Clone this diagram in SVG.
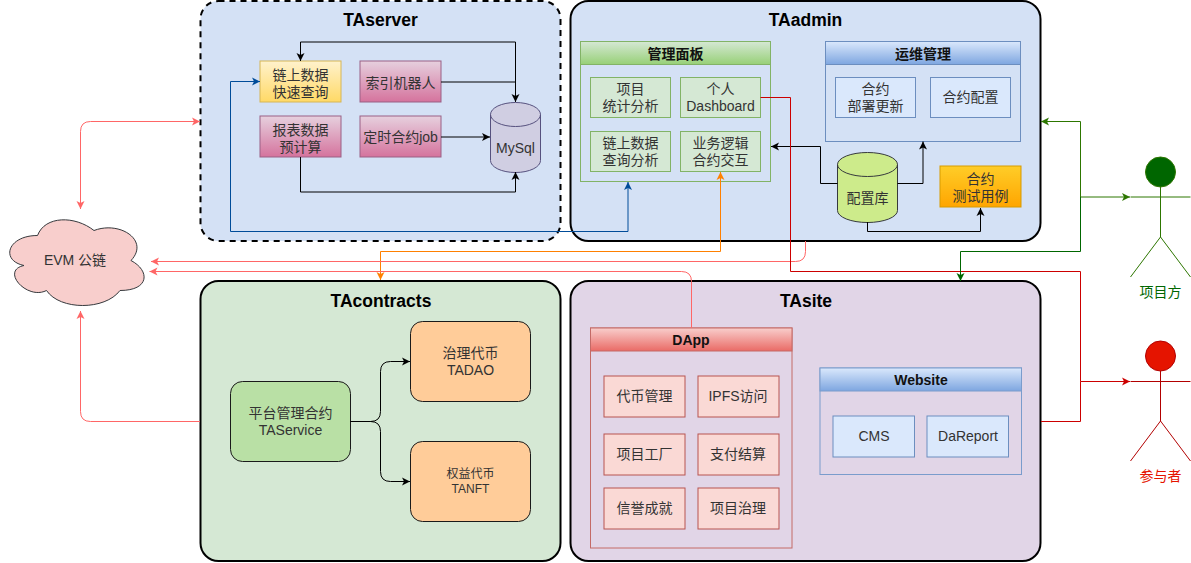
<svg xmlns="http://www.w3.org/2000/svg" width="1191" height="563" viewBox="0 0 1191 563">
<style>
text{font-family:"Liberation Sans","Noto Sans CJK SC",sans-serif;font-size:14px;fill:#333;text-anchor:middle}
.t{font-size:17.5px;font-weight:bold;fill:#000}
.h{font-weight:bold;fill:#111}
.p{stroke:#000;stroke-width:2}
.d{stroke-dasharray:6 5}
.n{stroke-width:1}
.pk{fill:url(#gPink);stroke:#996185}
.gn{fill:#d5e8d4;stroke:#82b366}
.bl{fill:#dae8fc;stroke:#6c8ebf}
.rd{fill:#fad9d5;stroke:#b85450}
.or{fill:#ffcc99;stroke:#1a1a1a}
.c{fill:none;stroke-width:1}
.k{stroke:#000}
.b{stroke:#004c99}
.o{stroke:#ff8000}
.pn{stroke:#ff6666}
.r{stroke:#cc0000}
.g{stroke:#2d7600}
.dg{stroke:#006600}
</style>
<defs>
<linearGradient id="gY" x1="0" y1="0" x2="0" y2="1"><stop offset="0" stop-color="#fff2cc"/><stop offset="1" stop-color="#ffd966"/></linearGradient>
<linearGradient id="gPink" x1="0" y1="0" x2="0" y2="1"><stop offset="0" stop-color="#e6d0de"/><stop offset="1" stop-color="#d5739d"/></linearGradient>
<linearGradient id="gG" x1="0" y1="0" x2="0" y2="1"><stop offset="0" stop-color="#d5e8d4"/><stop offset="1" stop-color="#97d077"/></linearGradient>
<linearGradient id="gB" x1="0" y1="0" x2="0" y2="1"><stop offset="0" stop-color="#dae8fc"/><stop offset="1" stop-color="#7ea6e0"/></linearGradient>
<linearGradient id="gR" x1="0" y1="0" x2="0" y2="1"><stop offset="0" stop-color="#f8cecc"/><stop offset="1" stop-color="#ea6b66"/></linearGradient>
<linearGradient id="gO" x1="0" y1="0" x2="0" y2="1"><stop offset="0" stop-color="#ffcd28"/><stop offset="1" stop-color="#ffa500"/></linearGradient>
<marker id="mK" markerUnits="userSpaceOnUse" markerWidth="10" markerHeight="10" refX="8" refY="4.5" orient="auto"><path d="M0 0.5L8 4.5L0 8.5L2 4.5z" fill="#000"/></marker>
<marker id="mB" markerUnits="userSpaceOnUse" markerWidth="10" markerHeight="10" refX="8" refY="4.5" orient="auto"><path d="M0 0.5L8 4.5L0 8.5L2 4.5z" fill="#004c99"/></marker>
<marker id="mO" markerUnits="userSpaceOnUse" markerWidth="10" markerHeight="10" refX="8" refY="4.5" orient="auto"><path d="M0 0.5L8 4.5L0 8.5L2 4.5z" fill="#ff8000"/></marker>
<marker id="mP" markerUnits="userSpaceOnUse" markerWidth="10" markerHeight="10" refX="8" refY="4.5" orient="auto-start-reverse"><path d="M0 0.5L8 4.5L0 8.5L2 4.5z" fill="#ff6666"/></marker>
<marker id="mR" markerUnits="userSpaceOnUse" markerWidth="10" markerHeight="10" refX="8" refY="4.5" orient="auto"><path d="M0 0.5L8 4.5L0 8.5L2 4.5z" fill="#cc0000"/></marker>
<marker id="mG" markerUnits="userSpaceOnUse" markerWidth="10" markerHeight="10" refX="8" refY="4.5" orient="auto"><path d="M0 0.5L8 4.5L0 8.5L2 4.5z" fill="#2d7600"/></marker>
<marker id="mD" markerUnits="userSpaceOnUse" markerWidth="10" markerHeight="10" refX="8" refY="4.5" orient="auto"><path d="M0 0.5L8 4.5L0 8.5L2 4.5z" fill="#006600"/></marker>
</defs>

<g id="TAserver"><rect class="p d" x="200.500" y="1" width="360" height="240" rx="18" fill="#d4e1f5"/><text class="t" x="380.500" y="26">TAserver</text></g>
<g id="TAadmin"><rect class="p" x="570.500" y="1" width="470" height="240" rx="18" fill="#d4e1f5"/><text class="t" x="805.500" y="26">TAadmin</text></g>
<g id="TAcontracts"><rect class="p" x="200.500" y="281" width="360" height="280" rx="18" fill="#d5e8d4"/><text class="t" x="381" y="307">TAcontracts</text></g>
<g id="TAsite"><rect class="p" x="570.500" y="281" width="470" height="280" rx="18" fill="#e1d5e7"/><text class="t" x="806" y="307">TAsite</text></g>

<g id="query"><rect x="260" y="61" width="81" height="41" fill="url(#gY)" stroke="#d6b656"/><text x="300.500" y="80">链上数据</text><text x="300.500" y="97">快速查询</text></g>
<g id="indexer"><rect class="pk" x="360" y="61" width="81" height="41"/><text x="400.500" y="88">索引机器人</text></g>
<g id="report"><rect class="pk" x="260" y="116" width="81" height="41"/><text x="300.500" y="135">报表数据</text><text x="300.500" y="152">预计算</text></g>
<g id="job"><rect class="pk" x="360" y="116" width="81" height="41"/><text x="400.500" y="142">定时合约job</text></g>
<g id="mysql"><path d="M490.500 114.500a25 12 0 0 1 50 0v46a25 12 0 0 1-50 0z" fill="#d0cee2" stroke="#56517e"/><path d="M490.500 114.500a25 12 0 0 0 50 0" fill="none" stroke="#56517e"/><text x="515.500" y="153">MySql</text></g>

<g id="panel"><rect x="580.500" y="41.500" width="190" height="140" fill="none" stroke="#82b366"/><rect x="580.500" y="41.500" width="190" height="23" fill="url(#gG)" stroke="#82b366"/><text class="h" x="675.500" y="59">管理面板</text></g>
<g id="stat"><rect class="gn" x="590.500" y="77.500" width="80" height="40"/><text x="630.500" y="94">项目</text><text x="630.500" y="111">统计分析</text></g>
<g id="dashboard"><rect class="gn" x="680.500" y="77.500" width="80" height="40"/><text x="720.500" y="94">个人</text><text x="720.500" y="111">Dashboard</text></g>
<g id="chain"><rect class="gn" x="590.500" y="131.500" width="80" height="40"/><text x="630.500" y="148">链上数据</text><text x="630.500" y="165">查询分析</text></g>
<g id="logic"><rect class="gn" x="680.500" y="131.500" width="80" height="40"/><text x="720.500" y="148">业务逻辑</text><text x="720.500" y="165">合约交互</text></g>

<g id="ops"><rect x="825.500" y="41.500" width="195" height="100" fill="none" stroke="#6c8ebf"/><rect x="825.500" y="41.500" width="195" height="23" fill="url(#gB)" stroke="#6c8ebf"/><text class="h" x="923" y="59">运维管理</text></g>
<g id="deploy"><rect class="bl" x="835.500" y="77.500" width="80" height="40"/><text x="875.500" y="94">合约</text><text x="875.500" y="111">部署更新</text></g>
<g id="config"><rect class="bl" x="930.500" y="77.500" width="80" height="40"/><text x="970.500" y="102">合约配置</text></g>
<g id="configdb"><path d="M837.500 164.500a30 12 0 0 1 60 0v46a30 12 0 0 1-60 0z" fill="#cdeb8b" stroke="#36393d"/><path d="M837.500 164.500a30 12 0 0 0 60 0" fill="none" stroke="#36393d"/><text x="867.500" y="203">配置库</text></g>
<g id="test"><rect x="940" y="166" width="81" height="41" fill="url(#gO)" stroke="#d79b00"/><text x="980.500" y="184">合约</text><text x="980.500" y="201">测试用例</text></g>

<g id="evm"><path d="M37.500 235.500C7.500 235.500 0 260.500 24 265.500C0 270.500 27 300.500 46.500 290.500C60 310.500 105 310.500 120 290.500C150 290.500 150 270.500 131 260.500C150 240.500 120 220.500 94 230.500C75 215.500 45 215.500 37.500 235.500Z" fill="#f8cecc" stroke="#36393d"/><text x="75" y="265">EVM 公链</text></g>

<g id="service"><rect x="230.500" y="381.500" width="120" height="80" rx="12" fill="#b9e0a5" stroke="#1a1a1a"/><text x="290.500" y="418">平台管理合约</text><text x="290.500" y="435">TAService</text></g>
<g id="tadao"><rect class="or" x="410.500" y="321.500" width="120" height="80" rx="12"/><text x="470.500" y="358">治理代币</text><text x="470.500" y="375">TADAO</text></g>
<g id="tanft"><rect class="or" x="410.500" y="441.500" width="120" height="80" rx="12"/><text x="470.500" y="478" style="font-size:12px">权益代币</text><text x="470.500" y="493" style="font-size:12px">TANFT</text></g>

<g id="dapp"><rect x="590.500" y="328" width="201.500" height="220" fill="none" stroke="#c46a66"/><rect x="590.500" y="328" width="201.500" height="23" fill="url(#gR)" stroke="#c46a66"/><text class="h" x="691" y="345">DApp</text></g>
<g id="token"><rect class="rd" x="604" y="376" width="81" height="41"/><text x="644.500" y="401">代币管理</text></g>
<g id="ipfs"><rect class="rd" x="698" y="376" width="81" height="41"/><text x="738" y="401">IPFS访问</text></g>
<g id="factory"><rect class="rd" x="604" y="434" width="81" height="41"/><text x="644.500" y="459">项目工厂</text></g>
<g id="pay"><rect class="rd" x="698" y="434" width="81" height="41"/><text x="738" y="459">支付结算</text></g>
<g id="credit"><rect class="rd" x="604" y="488" width="81" height="41"/><text x="644.500" y="513">信誉成就</text></g>
<g id="gov"><rect class="rd" x="698" y="488" width="81" height="41"/><text x="738" y="513">项目治理</text></g>

<g id="website"><rect x="820" y="368" width="201.500" height="106.500" fill="none" stroke="#7a9ccc"/><rect x="820" y="368" width="201.500" height="23" fill="url(#gB)" stroke="#7a9ccc"/><text class="h" x="921" y="385">Website</text></g>
<g id="cms"><rect class="bl" x="833" y="416" width="81.500" height="41"/><text x="874" y="441">CMS</text></g>
<g id="dareport"><rect class="bl" x="927" y="416" width="81.500" height="41"/><text x="968" y="441">DaReport</text></g>

<g id="actor-owner" fill="none" stroke="#2d7600"><circle cx="1160.500" cy="172" r="15" fill="#006600"/><path d="M1160.500 187V237M1130.500 197H1190.500M1160.500 237L1130.500 277M1160.500 237L1190.500 277"/><text x="1160.500" y="297" stroke="none" style="fill:#006600">项目方</text></g>
<g id="actor-user" fill="none" stroke="#b20000"><circle cx="1160.500" cy="356" r="15" fill="#e51400"/><path d="M1160.500 371V421M1130.500 381.500H1190.500M1160.500 421L1130.500 461M1160.500 421L1190.500 461"/><text x="1160.500" y="481" stroke="none" style="fill:#e51400">参与者</text></g>

<g id="connectors">
<path class="c k" d="M515.500 102V42H300.500V61" marker-end="url(#mK)"/>
<path class="c k" d="M441 82H515.500V102" marker-end="url(#mK)"/>
<path class="c k" d="M441 137H490" marker-end="url(#mK)"/>
<path class="c k" d="M300.500 157V192H515.500V172" marker-end="url(#mK)"/>
<path class="c k" d="M837.500 183.500H820.500V146.500H771" marker-end="url(#mK)"/>
<path class="c k" d="M897.500 183.500H923V141.500" marker-end="url(#mK)"/>
<path class="c k" d="M867.500 222V231.500H980.500V208" marker-end="url(#mK)"/>
<path class="c k" d="M350.500 421.500H370.500Q380.500 421.500 380.500 411.500V371.500Q380.500 361.500 390.500 361.500H410" marker-end="url(#mK)"/>
<path class="c k" d="M350.500 421.500H370.500Q380.500 421.500 380.500 431.500V471.500Q380.500 481.500 390.500 481.500H410" marker-end="url(#mK)"/>
<path class="c b" d="M628 231.500V182" marker-end="url(#mB)"/>
<path class="c b" d="M628 231.500H230.500V81.500H260" marker-end="url(#mB)"/>
<path class="c o" d="M720.500 251.500V172" marker-end="url(#mO)"/>
<path class="c o" d="M720.500 251.500H380.500V280" marker-end="url(#mO)"/>
<path class="c pn" d="M80.500 209V131.500Q80.500 121.500 90.500 121.500H200" marker-start="url(#mP)" marker-end="url(#mP)"/>
<path class="c pn" d="M200 421.500H90.500Q80.500 421.500 80.500 411.500V311" marker-end="url(#mP)"/>
<path class="c pn" d="M805.500 241V251.500Q805.500 261.500 795.500 261.500H151" marker-end="url(#mP)"/>
<path class="c pn" d="M691.500 328V281.500Q691.500 271.500 681.500 271.500H149.500" marker-end="url(#mP)"/>
<path class="c r" d="M760.500 97.500H790.500V271.500H1080.500V381.500H1130" marker-end="url(#mR)"/>
<path class="c r" d="M1041 421.500H1080.500V381.500"/>
<path class="c g" d="M1080.500 197H1130" marker-end="url(#mG)"/>
<path class="c g" d="M1080.500 197V121.500H1041" marker-end="url(#mG)"/>
<path class="c dg" d="M1080.500 197V251.500H960.500V281" marker-end="url(#mD)"/>
</g>
</svg>
